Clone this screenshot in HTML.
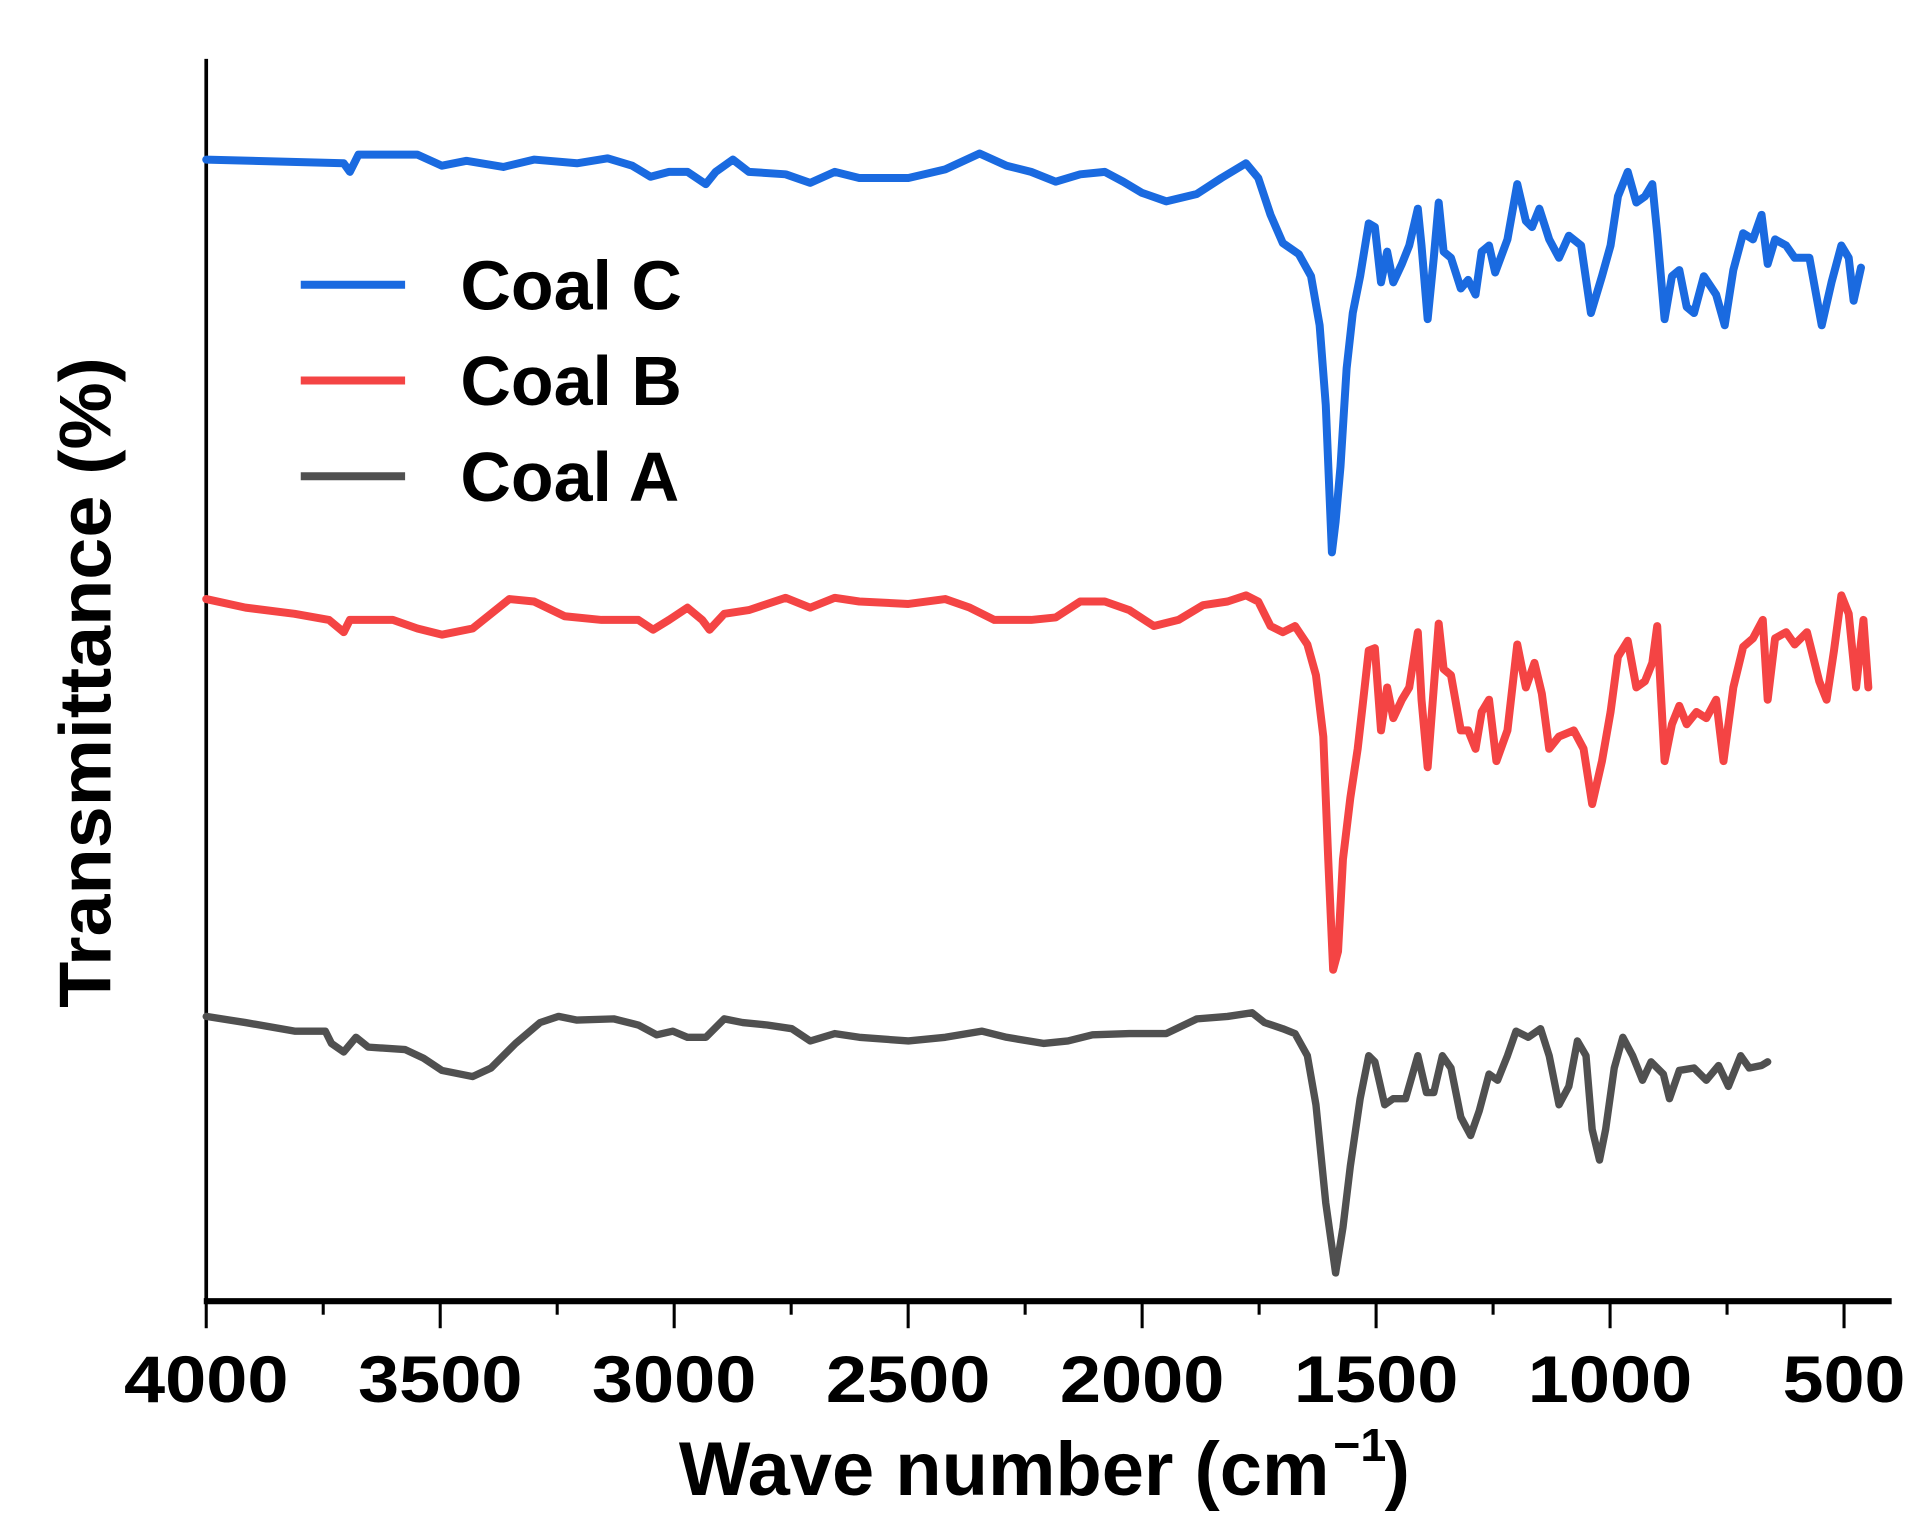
<!DOCTYPE html>
<html><head><meta charset="utf-8"><style>
html,body{margin:0;padding:0;background:#fff;}
svg{display:block;}
text{font-family:"Liberation Sans",Arial,sans-serif;font-weight:bold;fill:#000;}
</style></head><body>
<svg width="1915" height="1532" viewBox="0 0 1560 1248" xmlns="http://www.w3.org/2000/svg">
<rect width="1560" height="1248" fill="#fff"/>
<line x1="168" y1="48" x2="168" y2="1062" stroke="#000" stroke-width="3"/>
<line x1="166" y1="1060" x2="1541" y2="1060" stroke="#000" stroke-width="5"/>
<g stroke="#000" stroke-width="2.5">
<line x1="168" y1="1060" x2="168" y2="1082"/><line x1="358.6" y1="1060" x2="358.6" y2="1082"/>
<line x1="549.2" y1="1060" x2="549.2" y2="1082"/><line x1="739.8" y1="1060" x2="739.8" y2="1082"/>
<line x1="930.4" y1="1060" x2="930.4" y2="1082"/><line x1="1121" y1="1060" x2="1121" y2="1082"/>
<line x1="1311.6" y1="1060" x2="1311.6" y2="1082"/><line x1="1502.2" y1="1060" x2="1502.2" y2="1082"/>
<line x1="263.3" y1="1060" x2="263.3" y2="1071"/><line x1="453.9" y1="1060" x2="453.9" y2="1071"/>
<line x1="644.5" y1="1060" x2="644.5" y2="1071"/><line x1="835.1" y1="1060" x2="835.1" y2="1071"/>
<line x1="1025.7" y1="1060" x2="1025.7" y2="1071"/><line x1="1216.3" y1="1060" x2="1216.3" y2="1071"/>
<line x1="1406.9" y1="1060" x2="1406.9" y2="1071"/>
</g>
<g font-size="54" text-anchor="middle">
<text x="168" y="1142" textLength="134" lengthAdjust="spacingAndGlyphs">4000</text>
<text x="358.6" y="1142" textLength="134" lengthAdjust="spacingAndGlyphs">3500</text>
<text x="549.2" y="1142" textLength="134" lengthAdjust="spacingAndGlyphs">3000</text>
<text x="739.8" y="1142" textLength="134" lengthAdjust="spacingAndGlyphs">2500</text>
<text x="930.4" y="1142" textLength="134" lengthAdjust="spacingAndGlyphs">2000</text>
<text x="1121" y="1142" textLength="134" lengthAdjust="spacingAndGlyphs">1500</text>
<text x="1311.6" y="1142" textLength="134" lengthAdjust="spacingAndGlyphs">1000</text>
<text x="1502.2" y="1142" textLength="100" lengthAdjust="spacingAndGlyphs">500</text>
</g>
<text x="553" y="1218" font-size="62" textLength="530" lengthAdjust="spacingAndGlyphs">Wave number (cm</text>
<text x="1086" y="1190" font-size="38">−1</text>
<text x="1128" y="1218" font-size="62">)</text>
<text transform="translate(90,556) rotate(-90)" font-size="60" text-anchor="middle" textLength="530" lengthAdjust="spacingAndGlyphs">Transmittance (%)</text>
<line x1="245" y1="232" x2="330" y2="232" stroke="#1a6ae0" stroke-width="6.5"/>
<line x1="245" y1="310" x2="330" y2="310" stroke="#f44444" stroke-width="6.5"/>
<line x1="245" y1="388" x2="330" y2="388" stroke="#505050" stroke-width="6.5"/>
<g font-size="57">
<text x="375" y="252">Coal C</text>
<text x="375" y="330">Coal B</text>
<text x="375" y="408">Coal A</text>
</g>
<g fill="none" stroke-linejoin="round" stroke-linecap="round">
<polyline stroke="#1a6ae0" stroke-width="6.5" points="168,130 280,133 285,140 292,126 340,126 360,135 380,131 410,136 435,130 470,133 495,129 515,135 530,144 545,140 560,140 575,150 583,140 597,130 610,140 640,142 660,149 680,140 700,145 740,145 770,138 798,125 820,135 840,140 860,148 880,142 900,140 915,148 930,157 950,164 975,158 995,145 1015,133 1025,145 1035,175 1045,198 1058,207 1068,225 1075,265 1080,330 1085,450 1088,425 1092,380 1097,300 1102,255 1108,225 1115,182 1120,185 1125,230 1130,205 1135,230 1142,215 1148,200 1155,170 1158,200 1163,260 1168,210 1172,165 1176,205 1182,210 1190,235 1196,228 1202,240 1207,205 1213,200 1218,222 1228,195 1236,150 1243,180 1248,185 1254,170 1262,195 1270,210 1278,192 1288,200 1296,255 1305,225 1312,200 1318,160 1326,140 1333,165 1340,160 1346,150 1350,190 1356,260 1362,225 1368,220 1374,250 1380,255 1388,225 1398,240 1405,265 1412,220 1420,190 1428,195 1435,175 1440,215 1446,195 1455,200 1462,210 1474,210 1484,265 1492,230 1500,200 1506,210 1510,245 1516,218"/>
<polyline stroke="#f44444" stroke-width="6.5" points="168,488 200,495 240,500 268,505 280,515 285,505 300,505 320,505 340,512 360,517 385,512 400,500 415,488 435,490 460,502 490,505 520,505 532,513 545,505 560,495 572,505 578,513 590,500 610,497 640,487 660,495 680,487 700,490 740,492 770,488 790,495 810,505 840,505 860,503 880,490 900,490 920,497 940,510 960,505 980,493 1000,490 1015,485 1025,490 1035,510 1045,515 1055,510 1065,525 1072,550 1078,600 1082,700 1086,790 1090,775 1094,700 1100,650 1106,610 1110,575 1115,530 1120,528 1125,595 1130,560 1135,585 1142,570 1148,560 1155,515 1158,570 1163,625 1168,560 1172,508 1176,545 1182,550 1190,595 1196,595 1202,610 1207,580 1213,570 1219,620 1228,595 1236,525 1243,560 1250,540 1256,565 1262,610 1270,600 1282,595 1290,610 1297,655 1305,620 1312,580 1318,535 1326,522 1333,560 1340,555 1346,540 1350,510 1356,620 1362,590 1368,575 1374,590 1382,580 1390,585 1398,570 1404,620 1412,560 1420,527 1428,520 1436,505 1440,570 1446,520 1455,515 1462,525 1472,515 1482,555 1488,570 1494,530 1500,485 1506,500 1512,560 1518,505 1522,560"/>
<polyline stroke="#505050" stroke-width="6" points="168,828 200,833 240,840 265,840 270,850 280,857 290,845 300,853 330,855 345,862 360,872 385,877 400,870 420,850 440,833 455,828 470,831 500,830 520,835 535,843 548,840 560,845 575,845 590,830 605,833 625,835 645,838 660,848 680,842 700,845 740,848 770,845 800,840 820,845 850,850 870,848 890,843 920,842 950,842 975,830 1000,828 1020,825 1030,833 1045,838 1055,842 1065,860 1072,900 1080,980 1088,1037 1094,1000 1100,950 1108,895 1115,860 1120,865 1128,900 1135,895 1145,895 1155,860 1162,890 1168,890 1175,860 1182,870 1190,910 1198,925 1205,905 1213,875 1220,880 1228,860 1235,840 1245,845 1255,838 1262,860 1270,900 1278,885 1285,848 1292,860 1297,920 1303,945 1308,920 1315,870 1322,845 1330,860 1338,880 1345,865 1355,875 1360,895 1368,872 1380,870 1390,880 1400,868 1408,885 1418,860 1425,870 1435,868 1440,865"/>
</g>
</svg>
</body></html>
